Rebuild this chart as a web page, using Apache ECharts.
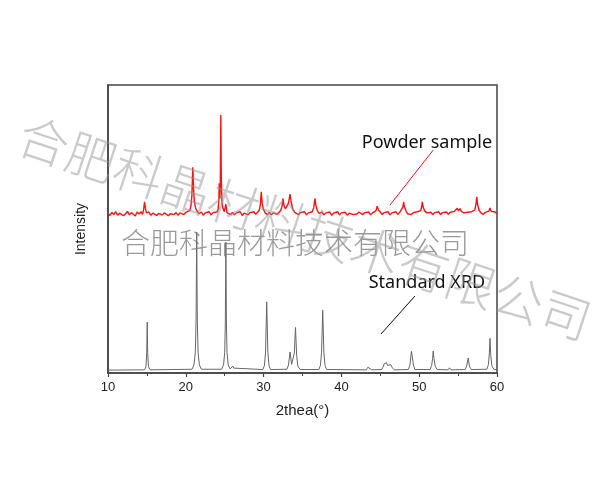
<!DOCTYPE html>
<html><head><meta charset="utf-8">
<script src="https://cdn.jsdelivr.net/npm/echarts@6/dist/echarts.min.js"></script>
<style>html,body{margin:0;padding:0;background:#fff}#c{width:600px;height:500px}</style>
</head><body><div id="c"></div>
<script>
// x-axis ticks (2theta, degrees)
const xTicks = [10, 20, 30, 40, 50, 60];

// Standard XRD pattern (gray): [2theta, intensity]
const standardXRD = [
  [10,1.0],[14.7,1.1],[14.88,2.2],[14.98,7],[15.04,17.7],[15.1,7],[15.2,2.2],[15.4,1.1],
  [20.8,1.3],[21.05,2.8],[21.22,7],[21.32,18],[21.4,48.9],[21.48,18],[21.58,7],[21.75,2.8],[22.0,1.3],
  [24.6,1.3],[24.85,2.8],[25.0,7],[25.08,17],[25.15,45.4],[25.22,17],[25.3,7],[25.45,2.8],[25.7,1.4],[25.9,1.8],[26.05,2.4],[26.15,1.7],[26.25,2.2],[26.4,1.2],
  [29.9,1.2],[30.1,2.5],[30.25,7],[30.4,24.7],[30.55,7],[30.7,2.5],[30.9,1.2],
  [33.0,1.3],[33.2,2.8],[33.4,7.3],[33.6,3],[33.8,3.5],[33.95,7],[34.1,15.8],[34.25,6],[34.4,2.4],[34.7,1.2],
  [37.1,1.2],[37.3,2.6],[37.45,7],[37.6,21.8],[37.75,7],[37.9,2.6],[38.1,1.2],
  [43.2,1.1],[43.4,2.0],[43.5,2.4],[43.65,1.8],[43.9,1.1],
  [45.2,1.2],[45.4,2.4],[45.5,3.2],[45.62,2.7],[45.8,3.6],[45.95,2.6],[46.15,2.3],[46.35,2.9],[46.55,1.8],[46.8,1.1],
  [48.6,1.2],[48.8,2.6],[48.92,5.5],[49.0,7.5],[49.1,6],[49.25,2.8],[49.45,1.2],
  [51.4,1.2],[51.6,2.6],[51.72,5],[51.8,7.6],[51.9,5],[52.05,2.4],[52.3,1.2],
  [53.7,1.1],[53.9,1.8],[54.1,1.1],
  [55.9,1.2],[56.1,2.4],[56.3,5.2],[56.45,2.4],[56.7,1.2],
  [58.7,1.3],[58.9,3],[59.02,7],[59.1,12],[59.2,6],[59.35,2.4],[59.6,1.3],[60,1.1]
];

// Powder sample pattern (red, offset upward): [2theta, intensity]
const powderSample = [
  [10.0,55.4],[10.25,54.7],[10.5,55.8],[10.75,55.0],[11.0,56.0],[11.25,54.8],[11.5,55.5],[11.75,55.9],
  [12.0,54.6],[12.25,55.3],[12.5,56.1],[12.75,54.9],[13.0,55.7],[13.25,55.1],[13.5,54.5],[13.75,55.9],
  [14.0,55.2],[14.25,56.0],[14.45,55.1],[14.58,56.8],[14.7,59.4],[14.82,57.0],[14.95,55.6],[15.25,55.9],
  [15.5,54.8],[15.75,55.5],[16.0,56.1],[16.25,54.7],[16.5,55.4],[16.75,55.8],[17.0,54.9],[17.25,55.6],
  [17.5,56.0],[17.75,54.6],[18.0,55.3],[18.25,55.9],[18.5,55.0],[18.75,55.7],[19.0,54.8],[19.25,55.6],
  [19.5,56.1],[19.75,55.0],[20.0,55.8],[20.25,55.2],[20.5,56.4],[20.65,57.8],[20.78,61.5],[20.9,71.4],
  [21.0,64.0],[21.1,59.6],[21.25,57.3],[21.45,56.2],[21.7,55.3],[22.0,55.9],[22.25,54.8],[22.5,55.6],
  [22.75,55.1],[23.0,56.0],[23.25,54.9],[23.5,55.7],[23.75,55.2],[24.0,55.9],[24.15,56.8],[24.25,60.0],
  [24.3,65.9],[24.37,60.5],[24.44,66.0],[24.5,89.6],[24.56,68.0],[24.64,59.5],[24.78,57.2],[24.95,56.0],
  [25.15,58.6],[25.3,55.7],[25.5,56.2],[25.75,55.0],[26.0,55.8],[26.25,54.9],[26.5,55.6],[26.75,55.2],
  [27.0,56.0],[27.25,54.7],[27.5,55.5],[27.75,55.9],[28.0,54.9],[28.25,55.7],[28.5,55.2],[28.75,56.0],
  [29.0,55.1],[29.25,55.9],[29.45,56.6],[29.58,58.4],[29.7,62.9],[29.82,58.8],[29.98,56.8],[30.2,55.6],
  [30.5,55.0],[30.75,55.8],[31.0,54.9],[31.25,55.6],[31.5,56.0],[31.75,55.1],[32.0,55.7],[32.2,56.4],
  [32.38,58.0],[32.5,60.6],[32.62,58.2],[32.8,57.0],[33.0,57.5],[33.2,59.0],[33.4,62.1],[33.55,59.2],
  [33.75,57.0],[34.0,55.8],[34.25,56.1],[34.5,55.0],[34.75,55.7],[35.0,55.2],[35.25,56.0],[35.5,54.9],
  [35.75,55.6],[36.0,55.3],[36.25,56.0],[36.45,57.4],[36.6,60.6],[36.72,58.3],[36.9,56.4],[37.15,55.4],
  [37.5,55.9],[37.75,54.9],[38.0,55.6],[38.25,55.1],[38.5,55.9],[38.75,54.8],[39.0,55.5],[39.25,55.2],
  [39.5,56.0],[39.75,54.9],[40.0,55.6],[40.25,55.1],[40.5,55.8],[40.75,54.8],[41.0,55.5],[41.25,55.9],
  [41.5,55.0],[41.75,55.6],[42.0,55.2],[42.25,55.9],[42.5,56.5],[42.75,55.0],[43.0,55.7],[43.25,55.1],
  [43.5,55.9],[43.75,54.9],[44.0,55.6],[44.25,55.8],[44.45,56.4],[44.6,57.9],[44.75,56.6],[45.0,55.9],
  [45.25,55.0],[45.5,55.7],[45.75,55.2],[46.0,56.0],[46.25,54.9],[46.5,55.6],[46.75,55.3],[47.0,56.0],
  [47.25,55.1],[47.5,55.8],[47.75,56.3],[47.9,57.6],[48.0,59.4],[48.1,57.7],[48.3,56.3],[48.5,55.3],
  [48.75,55.9],[49.0,55.0],[49.25,55.7],[49.5,55.2],[49.75,56.0],[50.0,55.4],[50.2,56.4],[50.3,57.6],
  [50.4,59.4],[50.5,57.6],[50.7,56.3],[51.0,55.6],[51.25,55.1],[51.5,55.8],[51.75,55.0],[52.0,55.7],
  [52.25,55.3],[52.5,56.0],[52.75,55.0],[53.0,55.7],[53.25,55.2],[53.5,55.9],[53.75,55.1],[54.0,55.8],
  [54.25,55.3],[54.5,56.1],[54.75,56.5],[54.9,57.2],[55.05,56.3],[55.25,57.1],[55.45,56.0],[55.75,55.6],
  [56.0,55.1],[56.25,55.8],[56.5,55.3],[56.75,56.0],[57.0,55.6],[57.15,56.6],[57.3,58.6],[57.4,61.2],
  [57.5,58.6],[57.7,56.5],[57.95,55.6],[58.25,55.1],[58.5,55.8],[58.75,55.4],[58.95,56.2],[59.1,57.3],
  [59.25,56.1],[59.5,55.5],[59.75,55.9],[60.0,55.3]
];

// Annotations (data coordinates)
const annotationLabels = ['Powder sample', 'Standard XRD'];
const annotationTextAt = [[51.0, 80.0], [51.0, 31.3]];
const annotationLines = [[[51.8, 77.4], [46.24, 58.3]], [[49.45, 26.7], [45.08, 13.5]]];
const annotationColors = ['#e8141e', '#111111'];

const watermark = '合肥科晶材料技术有限公司';

const chart = echarts.init(document.getElementById('c'), null, {renderer: 'canvas'});
const option = {
  animation: false,
  backgroundColor: '#fff',
  grid: {left: 108, right: 103, top: 85, bottom: 127, show: true, borderColor: '#444', borderWidth: 1.5, backgroundColor: 'transparent'},
  xAxis: {
    type: 'value', min: xTicks[0], max: xTicks[xTicks.length - 1], interval: 10,
    name: '2thea(°)', nameLocation: 'middle', nameGap: 30,
    nameTextStyle: {fontFamily: 'Liberation Sans', fontSize: 15, color: '#222'},
    axisLine: {lineStyle: {color: '#444', width: 1.5}},
    axisTick: {show: true, inside: false, length: 4, lineStyle: {color: '#444', width: 1.2}},
    minorTick: {show: true, splitNumber: 2, length: 3, lineStyle: {color: '#444', width: 1}},
    axisLabel: {fontFamily: 'Liberation Sans', fontSize: 13, color: '#222', margin: 8},
    splitLine: {show: false}
  },
  yAxis: {
    type: 'value', min: 0, max: 100,
    name: 'Intensity', nameLocation: 'middle', nameGap: 20, nameRotate: 90,
    nameTextStyle: {fontFamily: 'Liberation Sans', fontSize: 14, color: '#222'},
    axisLine: {show: true, lineStyle: {color: '#444', width: 1.5}},
    axisTick: {show: false}, axisLabel: {show: false}, splitLine: {show: false}
  },
  series: [
    {type: 'line', name: 'Standard XRD', data: standardXRD, showSymbol: false, symbol: 'none',
     lineStyle: {color: '#666', width: 1}, z: 3},
    {type: 'line', name: 'Powder sample', data: powderSample, showSymbol: false, symbol: 'none',
     lineStyle: {color: '#ff1010', width: 1.4}, z: 4}
  ]
};
chart.setOption(option);

const g = [];
annotationLabels.forEach((t, i) => {
  const p = chart.convertToPixel({gridIndex: 0}, annotationTextAt[i]);
  const a = chart.convertToPixel({gridIndex: 0}, annotationLines[i][0]);
  const b = chart.convertToPixel({gridIndex: 0}, annotationLines[i][1]);
  g.push({type: 'text', x: p[0], y: p[1], z: 20,
    style: {text: t, fill: '#111', font: '18px "Noto Sans"', align: 'center', verticalAlign: 'middle'}});
  g.push({type: 'line', z: 20, shape: {x1: a[0], y1: a[1], x2: b[0], y2: b[1]},
    style: {stroke: annotationColors[i], lineWidth: 1}});
});
// watermarks
g.push({type: 'text', x: 295, y: 243, z: 30, silent: true,
  style: {text: watermark, fill: 'rgba(120,120,120,0.75)', font: '300 29px "Noto Sans CJK SC"', align: 'center', verticalAlign: 'middle'}});
g.push({type: 'text', x: 305, y: 228, rotation: -0.321, z: 30, silent: true,
  style: {text: watermark, fill: 'rgba(150,150,150,0.5)', font: '300 50px "Noto Sans CJK SC"', align: 'center', verticalAlign: 'middle'}});
chart.setOption({graphic: g});
</script>
</body></html>
